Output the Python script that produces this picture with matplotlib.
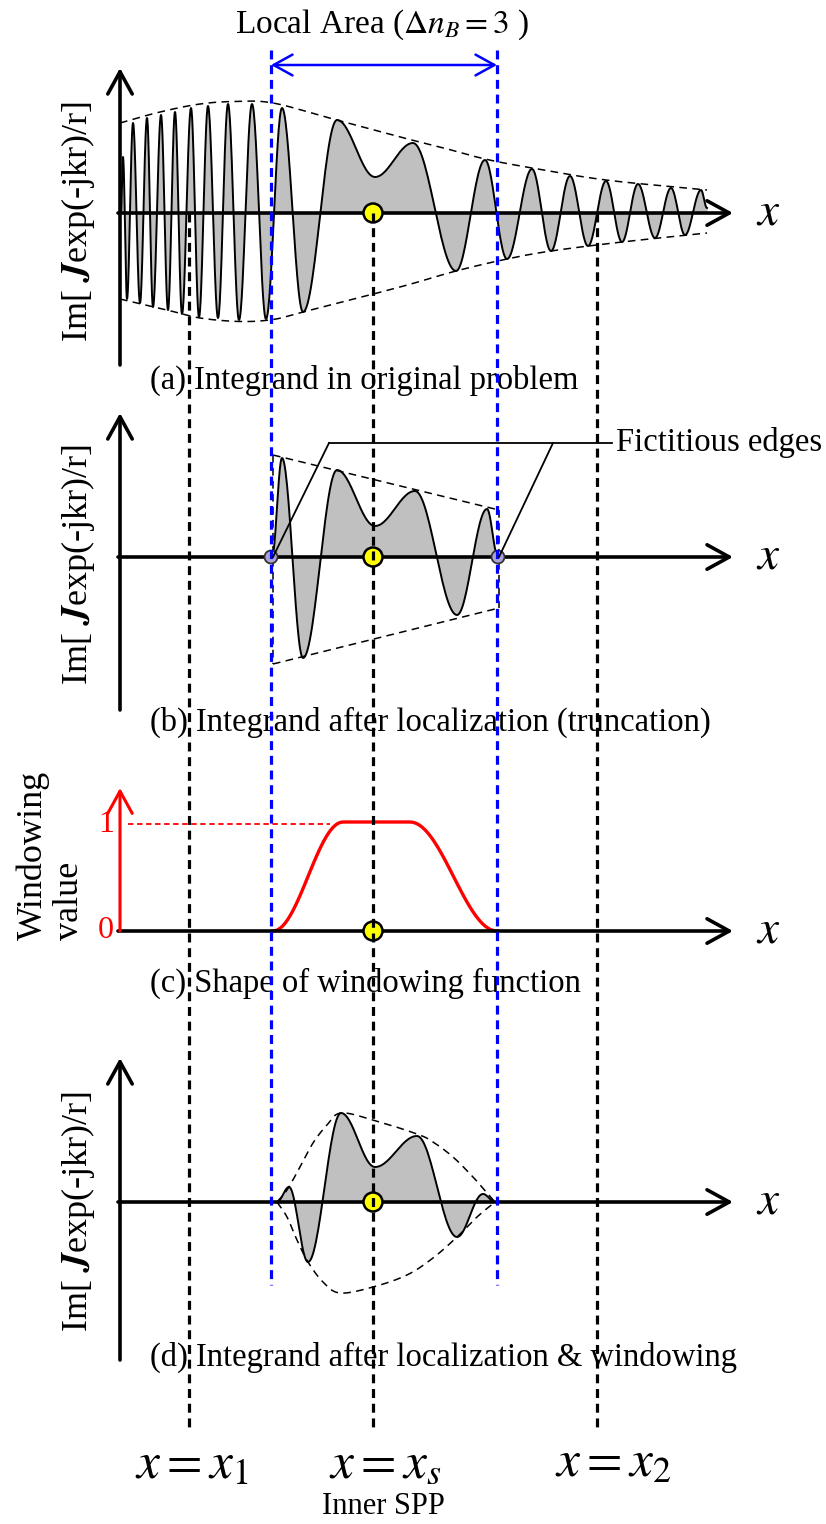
import numpy as np
import matplotlib
matplotlib.use('Agg')
import matplotlib.pyplot as plt
from matplotlib.patches import Circle

plt.rcParams['font.family'] = ['Liberation Serif', 'DejaVu Serif']
plt.rcParams['mathtext.fontset'] = 'stix'

# key positions on the x axis (pixels)
X_LEFT_AXIS = 120
X1, XS, X2 = 189, 373, 597
LOCAL_L, LOCAL_R = 271, 497
X_END = 733

# baselines of the four panels
BASE_A, BASE_B, BASE_C, BASE_D = 213, 557, 931, 1202

# (a) extrema of the integrand
a_x = [121, 123, 127, 133, 140, 147, 153, 161, 168, 175, 182, 191, 199, 208, 218, 228, 239, 252,
       266, 282, 303, 337, 375, 413, 456, 485, 507, 532, 551, 570, 588, 606, 622, 638, 655, 671,
       685, 701, 707]
a_y = [213, 157, 299, 123, 303, 118, 307, 115, 310, 112, 314, 108, 317, 106, 318, 104, 320, 104,
       319, 108, 312, 120, 177, 143, 271, 160, 259, 169, 251, 176, 246, 181, 242, 184, 238, 188,
       235, 190, 208]
a_env_up_x = [120, 160, 200, 235, 273, 333, 400, 440, 485, 532, 606, 707]
a_env_up_y = [123, 112, 104, 101.5, 103, 119, 137, 147, 159, 168, 180, 190]
a_env_lo_x = [120, 167, 200, 240, 273, 303, 400, 456, 507, 551, 622, 707]
a_env_lo_y = [299, 310, 318, 321.5, 319.5, 312, 287, 271, 259, 251, 242, 233]

# (b) truncated integrand
b_x = [272, 282, 303, 337, 375, 415, 457, 487, 498]
b_y = [557, 458, 658, 470, 526, 491, 615, 509, 557]
b_env_x = [273, 499]
b_env_up = [455, 510]
b_env_lo = [664, 608]

# (c) window function
c_x = [273, 343, 410, 497]
c_y = [931, 822, 822, 931]
ONE_LEVEL = 824

# (d) windowed integrand
d_x = [277, 289, 308, 341, 375, 417, 457, 483, 495]
d_y = [1202, 1187, 1262, 1113, 1167, 1136, 1237, 1194, 1202]
d_env_up_x = [277, 287, 300, 313, 327, 341, 373, 417, 433, 453, 473, 487, 495]
d_env_up_y = [1202, 1190, 1167, 1143, 1125, 1113, 1120, 1134, 1142, 1157, 1177, 1193, 1202]
d_env_lo_x = [277, 287, 297, 308, 323, 340, 373, 407, 433, 457, 477, 495]
d_env_lo_y = [1202, 1217, 1240, 1262, 1282, 1293, 1287, 1275, 1258, 1237, 1217, 1202]

titles = ['(a) Integrand in original problem',
          '(b) Integrand after localization (truncation)',
          '(c) Shape of windowing function',
          '(d) Integrand after localization & windowing']
title_y = [380, 722, 983, 1357]


def wave(xs, ys, n=30):
    # half-cosine between consecutive extrema
    ox, oy = [xs[0]], [ys[0]]
    t = np.linspace(0, 1, n)[1:]
    for i in range(len(xs) - 1):
        ox.extend(xs[i] + (xs[i + 1] - xs[i]) * t)
        oy.extend(ys[i] + (ys[i + 1] - ys[i]) * (1 - np.cos(np.pi * t)) / 2)
    return np.array(ox), np.array(oy)


def spline(xs, ys, n=20):
    p = np.column_stack([xs, ys]).astype(float)
    p = np.vstack([2 * p[0] - p[1], p, 2 * p[-1] - p[-2]])
    out = [p[1]]
    t = np.linspace(0, 1, n)[1:, None]
    for i in range(1, len(p) - 2):
        p0, p1, p2, p3 = p[i - 1], p[i], p[i + 1], p[i + 2]
        seg = 0.5 * (2 * p1 + (-p0 + p2) * t + (2 * p0 - 5 * p1 + 4 * p2 - p3) * t ** 2
                     + (-p0 + 3 * p1 - 3 * p2 + p3) * t ** 3)
        out.extend(seg)
    out = np.array(out)
    return out[:, 0], out[:, 1]


def arrow(ax, tail, tip, color='k', lw=2.6, style='->', ms=40):
    ax.annotate('', xy=tip, xytext=tail,
                arrowprops=dict(arrowstyle=style + ',head_length=0.4,head_width=0.22',
                                color=color, lw=lw, shrinkA=0, shrinkB=0,
                                mutation_scale=ms), zorder=5)


fig = plt.figure(figsize=(8.26, 15.24), dpi=100)
ax = fig.add_axes([0, 0, 1, 1])
ax.set_xlim(0, 826)
ax.set_ylim(1524, 0)
ax.axis('off')

env_kw = dict(color='k', lw=1.1, dashes=(5, 3.5), zorder=2)

# panel (a)
wx, wy = wave(a_x, a_y)
ax.fill_between(wx, wy, BASE_A, color='#c0c0c0', lw=0, zorder=1)
ax.plot(wx, wy, color='k', lw=1.4, zorder=3)
ax.plot(*spline(a_env_up_x, a_env_up_y), **env_kw)
ax.plot(*spline(a_env_lo_x, a_env_lo_y), **env_kw)

# panel (b)
wx, wy = wave(b_x, b_y)
ax.fill_between(wx, wy, BASE_B, color='#c0c0c0', lw=0, zorder=1)
ax.plot(wx, wy, color='k', lw=1.4, zorder=3)
ax.plot(b_env_x, b_env_up, **env_kw)
ax.plot(b_env_x, b_env_lo, **env_kw)
ax.plot([b_env_x[0]] * 2, [b_env_up[0], b_env_lo[0]], **env_kw)
ax.plot([b_env_x[1]] * 2, [b_env_up[1], b_env_lo[1]], **env_kw)

# panel (c)
wx, wy = wave(c_x, c_y)
ax.plot(wx, wy, color='red', lw=2.4, zorder=3)
ax.plot([X_LEFT_AXIS + 8, 330], [ONE_LEVEL, ONE_LEVEL], color='red', lw=1.3,
        dashes=(3, 2), zorder=2)
ax.text(106, ONE_LEVEL, '1', color='red', fontsize=23, ha='center', va='center')
ax.text(106, BASE_C, '0', color='red', fontsize=23, ha='center', va='center')

# panel (d)
wx, wy = wave(d_x, d_y)
ax.fill_between(wx, wy, BASE_D, color='#c0c0c0', lw=0, zorder=1)
ax.plot(wx, wy, color='k', lw=1.4, zorder=3)
ax.plot(*spline(d_env_up_x, d_env_up_y), **env_kw)
ax.plot(*spline(d_env_lo_x, d_env_lo_y), **env_kw)

# axes with arrows
for base in [BASE_A, BASE_B, BASE_C, BASE_D]:
    arrow(ax, (X_LEFT_AXIS - 2, base), (X_END, base))
    ax.text(768, base, '$x$', fontsize=34, ha='center', va='center')
arrow(ax, (X_LEFT_AXIS, 365), (X_LEFT_AXIS, 68))
arrow(ax, (X_LEFT_AXIS, 710), (X_LEFT_AXIS, 413))
arrow(ax, (X_LEFT_AXIS, BASE_C), (X_LEFT_AXIS, 788), color='red', lw=2.2)
arrow(ax, (X_LEFT_AXIS, 1360), (X_LEFT_AXIS, 1058))

im_label = r'Im[ $\mathbfit{J}$exp(-jkr)/r]'
for yc in [222, 565, 1212]:
    ax.text(78, yc, im_label, fontsize=26, rotation=90, ha='center', va='center')
ax.text(51, 855, 'Windowing\nvalue', fontsize=26, rotation=90, ha='center', va='center',
        multialignment='left', linespacing=1.1)

# stationary point markers
for base in [BASE_A, BASE_B, BASE_C, BASE_D]:
    ax.add_patch(Circle((XS, base), 9.5, facecolor='yellow', edgecolor='k', lw=1.8, zorder=6))
for xe in [LOCAL_L, 498]:
    ax.add_patch(Circle((xe, BASE_B), 6.5, facecolor='#aca4d6', edgecolor='#333333',
                        lw=1.3, zorder=6))

# vertical guide lines
for xv in [X1, XS, X2]:
    ax.plot([xv, xv], [BASE_A, 1428], color='k', lw=2.3, dashes=(2.8, 1.8), zorder=7)
for xv in [LOCAL_L, LOCAL_R]:
    ax.plot([xv, xv], [50, 1285], color='#0000ff', lw=2.3, dashes=(2.8, 1.8), zorder=7)

# local area arrow and label
arrow(ax, (LOCAL_L, 65), (LOCAL_R, 65), color='#0000ff', lw=1.8, style='<->', ms=34)
ax.text(382, 25, r'Local Area ($\Delta n_B = 3$ )', fontsize=24, ha='center', va='center')

# fictitious edges callout
ax.plot([329, 612], [443, 443], color='k', lw=1.3, zorder=8)
ax.plot([329, LOCAL_L + 2], [443, BASE_B], color='k', lw=1.3, zorder=8)
ax.plot([553, 499], [443, BASE_B], color='k', lw=1.3, zorder=8)
ax.text(616, 443, 'Fictitious edges', fontsize=23.5, ha='left', va='center')

# panel captions
for t, ty in zip(titles, title_y):
    ax.text(150, ty, t, fontsize=23.5, ha='left', va='center')

# bottom labels
ax.text(192, 1466, '$x = x_1$', fontsize=37, ha='center', va='center')
ax.text(385, 1466, '$x = x_s$', fontsize=37, ha='center', va='center')
ax.text(613, 1464, '$x = x_2$', fontsize=37, ha='center', va='center')
ax.text(383, 1506, 'Inner SPP', fontsize=22, ha='center', va='center')

fig.savefig('out.png', dpi=100)
